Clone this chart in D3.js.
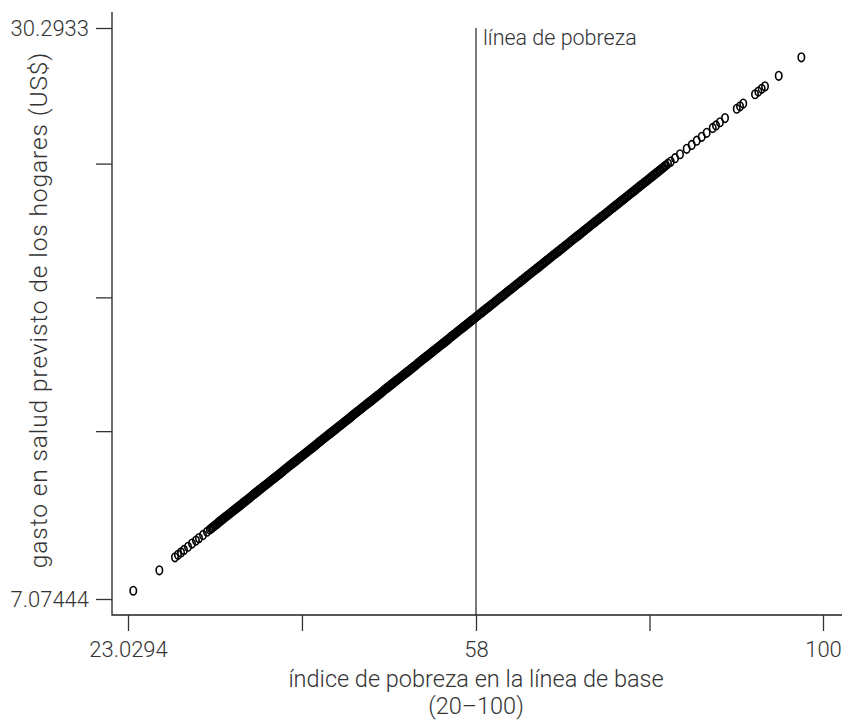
<!DOCTYPE html>
<html>
<head>
<meta charset="utf-8">
<script src="https://cdn.jsdelivr.net/npm/d3@7"></script>
<style>
  body { margin: 0; background: #fff; }
  svg text { font-family: Roboto, "Liberation Sans", sans-serif; font-weight: 300; fill: #333; }
</style>
</head>
<body>
<svg width="842" height="720"></svg>
<script>
// indice de pobreza (x) y gasto previsto (y)
const lowIndex = [23.56, 26.18, 27.75, 28.05, 28.36, 28.66, 29.06, 29.46, 29.86, 30.16, 30.57, 30.97];
const lowSpend = [7.41, 8.24, 8.77, 8.87, 8.97, 9.07, 9.20, 9.33, 9.45, 9.55, 9.68, 9.81];

const bandIndexA = [
  31.25, 31.38, 31.5, 31.63, 31.75, 31.88,
  32, 32.13, 32.25, 32.38, 32.5, 32.63, 32.75, 32.88,
  33, 33.13, 33.25, 33.38, 33.5, 33.63, 33.75, 33.88,
  34, 34.13, 34.25, 34.38, 34.5, 34.63, 34.75, 34.88,
  35, 35.13, 35.25, 35.38, 35.5, 35.63, 35.75, 35.88,
  36, 36.13, 36.25, 36.38, 36.5, 36.63, 36.75, 36.88,
  37, 37.13, 37.25, 37.38, 37.5, 37.63, 37.75, 37.88,
  38, 38.13, 38.25, 38.38, 38.5, 38.63, 38.75, 38.88,
  39, 39.13, 39.25, 39.38, 39.5, 39.63, 39.75, 39.88,
  40, 40.13, 40.25, 40.38, 40.5, 40.63, 40.75, 40.88,
  41, 41.13, 41.25, 41.38, 41.5, 41.63, 41.75, 41.88,
  42, 42.13, 42.25, 42.38, 42.5, 42.63, 42.75, 42.88,
  43, 43.13, 43.25, 43.38, 43.5, 43.63, 43.75, 43.88,
  44, 44.13, 44.25, 44.38, 44.5, 44.63, 44.75, 44.88,
  45, 45.13, 45.25, 45.38, 45.5, 45.63, 45.75, 45.88,
  46, 46.13, 46.25, 46.38, 46.5, 46.63, 46.75, 46.88,
  47, 47.13, 47.25, 47.38, 47.5, 47.63, 47.75, 47.88,
  48, 48.13, 48.25, 48.38, 48.5, 48.63, 48.75, 48.88,
  49, 49.13, 49.25, 49.38, 49.5, 49.63, 49.75, 49.88,
  50, 50.13, 50.25, 50.38, 50.5, 50.63, 50.75, 50.88,
  51, 51.13, 51.25, 51.38, 51.5, 51.63, 51.75, 51.88,
  52, 52.13, 52.25, 52.38, 52.5, 52.63, 52.75, 52.88,
  53, 53.13, 53.25, 53.38, 53.5, 53.63, 53.75, 53.88,
  54, 54.13, 54.25, 54.38, 54.5, 54.63, 54.75, 54.88,
  55, 55.13, 55.25, 55.38, 55.5, 55.63, 55.75, 55.88,
  56, 56.13, 56.25, 56.38, 56.5, 56.63, 56.75, 56.88,
  57, 57.13, 57.25, 57.38, 57.5, 57.63, 57.75, 57.88
];
const bandSpendA = [
  9.90, 9.94, 9.98, 10.02, 10.06, 10.10,
  10.14, 10.19, 10.23, 10.27, 10.31, 10.35, 10.39, 10.43,
  10.47, 10.51, 10.55, 10.59, 10.63, 10.67, 10.71, 10.75,
  10.79, 10.83, 10.87, 10.91, 10.95, 10.99, 11.03, 11.07,
  11.11, 11.15, 11.19, 11.23, 11.28, 11.32, 11.36, 11.40,
  11.44, 11.48, 11.52, 11.56, 11.60, 11.64, 11.68, 11.72,
  11.76, 11.80, 11.84, 11.88, 11.92, 11.96, 12.00, 12.04,
  12.08, 12.12, 12.16, 12.20, 12.24, 12.28, 12.33, 12.37,
  12.41, 12.45, 12.49, 12.53, 12.57, 12.61, 12.65, 12.69,
  12.73, 12.77, 12.81, 12.85, 12.89, 12.93, 12.97, 13.01,
  13.05, 13.09, 13.13, 13.17, 13.21, 13.25, 13.29, 13.33,
  13.37, 13.42, 13.46, 13.50, 13.54, 13.58, 13.62, 13.66,
  13.70, 13.74, 13.78, 13.82, 13.86, 13.90, 13.94, 13.98,
  14.02, 14.06, 14.10, 14.14, 14.18, 14.22, 14.26, 14.30,
  14.34, 14.38, 14.42, 14.46, 14.51, 14.55, 14.59, 14.63,
  14.67, 14.71, 14.75, 14.79, 14.83, 14.87, 14.91, 14.95,
  14.99, 15.03, 15.07, 15.11, 15.15, 15.19, 15.23, 15.27,
  15.31, 15.35, 15.39, 15.43, 15.47, 15.51, 15.56, 15.60,
  15.64, 15.68, 15.72, 15.76, 15.80, 15.84, 15.88, 15.92,
  15.96, 16.00, 16.04, 16.08, 16.12, 16.16, 16.20, 16.24,
  16.28, 16.32, 16.36, 16.40, 16.44, 16.48, 16.52, 16.56,
  16.60, 16.65, 16.69, 16.73, 16.77, 16.81, 16.85, 16.89,
  16.93, 16.97, 17.01, 17.05, 17.09, 17.13, 17.17, 17.21,
  17.25, 17.29, 17.33, 17.37, 17.41, 17.45, 17.49, 17.53,
  17.57, 17.61, 17.65, 17.70, 17.74, 17.78, 17.82, 17.86,
  17.90, 17.94, 17.98, 18.02, 18.06, 18.10, 18.14, 18.18,
  18.22, 18.26, 18.30, 18.34, 18.38, 18.42, 18.46, 18.50
];

const bandIndexB = [
  58, 58.17, 58.33, 58.5, 58.67, 58.83,
  59, 59.17, 59.33, 59.5, 59.67, 59.83,
  60, 60.17, 60.33, 60.5, 60.67, 60.83,
  61, 61.17, 61.33, 61.5, 61.67, 61.83,
  62, 62.17, 62.33, 62.5, 62.67, 62.83,
  63, 63.17, 63.33, 63.5, 63.67, 63.83,
  64, 64.17, 64.33, 64.5, 64.67, 64.83,
  65, 65.17, 65.33, 65.5, 65.67, 65.83,
  66, 66.17, 66.33, 66.5, 66.67, 66.83,
  67, 67.17, 67.33, 67.5, 67.67, 67.83,
  68, 68.17, 68.33, 68.5, 68.67, 68.83,
  69, 69.17, 69.33, 69.5, 69.67, 69.83,
  70, 70.17, 70.33, 70.5, 70.67, 70.83,
  71, 71.17, 71.33, 71.5, 71.67, 71.83,
  72, 72.17, 72.33, 72.5, 72.67, 72.83,
  73, 73.17, 73.33, 73.5, 73.67, 73.83,
  74, 74.17, 74.33, 74.5, 74.67, 74.83,
  75, 75.17, 75.33, 75.5, 75.67, 75.83,
  76, 76.17, 76.33, 76.5, 76.67, 76.83,
  77, 77.17, 77.33, 77.5, 77.67, 77.83,
  78, 78.17, 78.33, 78.5, 78.67, 78.83,
  79, 79.17, 79.33, 79.5, 79.67, 79.83,
  80, 80.17, 80.33, 80.5, 80.67, 80.83,
  81
];
const bandSpendB = [
  18.54, 18.59, 18.63, 18.68, 18.72, 18.77,
  18.81, 18.86, 18.90, 18.94, 18.99, 19.03,
  19.08, 19.12, 19.17, 19.21, 19.26, 19.30,
  19.35, 19.39, 19.44, 19.48, 19.53, 19.57,
  19.62, 19.66, 19.70, 19.75, 19.79, 19.84,
  19.88, 19.93, 19.97, 20.02, 20.06, 20.11,
  20.15, 20.20, 20.24, 20.29, 20.33, 20.38,
  20.42, 20.46, 20.51, 20.55, 20.60, 20.64,
  20.69, 20.73, 20.78, 20.82, 20.87, 20.91,
  20.96, 21.00, 21.05, 21.09, 21.13, 21.18,
  21.22, 21.27, 21.31, 21.36, 21.40, 21.45,
  21.49, 21.54, 21.58, 21.63, 21.67, 21.72,
  21.76, 21.81, 21.85, 21.89, 21.94, 21.98,
  22.03, 22.07, 22.12, 22.16, 22.21, 22.25,
  22.30, 22.34, 22.39, 22.43, 22.48, 22.52,
  22.57, 22.61, 22.65, 22.70, 22.74, 22.79,
  22.83, 22.88, 22.92, 22.97, 23.01, 23.06,
  23.10, 23.15, 23.19, 23.24, 23.28, 23.32,
  23.37, 23.41, 23.46, 23.50, 23.55, 23.59,
  23.64, 23.68, 23.73, 23.77, 23.82, 23.86,
  23.91, 23.95, 24.00, 24.04, 24.08, 24.13,
  24.17, 24.22, 24.26, 24.31, 24.35, 24.40,
  24.44, 24.49, 24.53, 24.58, 24.62, 24.67,
  24.71
];

const highIndex = [81.24, 81.57, 82.09, 82.69, 83.5, 84.11, 84.71, 85.32, 85.92, 86.65, 87.05, 87.53, 88.14,
  89.56, 89.96, 90.35, 91.77, 92.17, 92.58, 92.98, 94.64, 97.38];
const highSpend = [24.78, 24.86, 25.00, 25.16, 25.38, 25.54, 25.71, 25.87, 26.03, 26.23, 26.33, 26.46, 26.63,
  27.01, 27.11, 27.22, 27.60, 27.71, 27.82, 27.92, 28.35, 29.10];

const xTickValues = [23.0294, 40.51, 58, 79, 100];
const xTickLabels = ["23.0294", "", "58", "", "100"];
const yTickValues = [7.07444, 13.90, 19.34, 24.78, 30.2933];
const yTickLabels = ["7.07444", "", "", "", "30.2933"];
const povertyLine = 58;

const povertyIndex = lowIndex.concat(bandIndexA, bandIndexB, highIndex);
const healthSpend = lowSpend.concat(bandSpendA, bandSpendB, highSpend);
const data = povertyIndex.map((v, i) => ({ x: v, y: healthSpend[i] }));

const svg = d3.select("svg");

// eje x con marcas equidistantes: 23.0294 | 58 | 100
const xScale = d3.scaleLinear()
  .domain([23.0294, 58, 100])
  .range([128, 476, 823]);

const yScale = d3.scaleLinear()
  .domain([7.07444, 30.2933])
  .range([599, 28]);

// lineas de los ejes
svg.append("path")
  .attr("d", "M112,12V615H842")
  .attr("fill", "none")
  .attr("stroke", "#222")
  .attr("stroke-width", 1.3);

const gx = svg.append("g")
  .attr("transform", "translate(0,615)")
  .call(d3.axisBottom(xScale)
    .tickValues(xTickValues)
    .tickFormat((d, i) => xTickLabels[i])
    .tickSize(16)
    .tickPadding(10));

const gy = svg.append("g")
  .attr("transform", "translate(112,0)")
  .call(d3.axisLeft(yScale)
    .tickValues(yTickValues)
    .tickFormat((d, i) => yTickLabels[i])
    .tickSize(16)
    .tickPadding(7));

[gx, gy].forEach(g => {
  g.select(".domain").remove();
  g.selectAll(".tick line").attr("stroke", "#333").attr("stroke-width", 1.3);
  g.selectAll(".tick text").attr("font-size", 22).attr("fill", "#333")
    .style("font-family", "Roboto, 'Liberation Sans', sans-serif");
});

// linea de pobreza
svg.append("line")
  .attr("x1", xScale(povertyLine)).attr("x2", xScale(povertyLine))
  .attr("y1", yScale(30.2933)).attr("y2", 615)
  .attr("stroke", "#222")
  .attr("stroke-width", 1.2);

svg.append("text")
  .attr("x", xScale(povertyLine) + 7)
  .attr("y", 45)
  .attr("font-size", 21.5)
  .text("línea de pobreza");

// puntos
svg.selectAll(".dot")
  .data(data)
  .enter()
  .append("ellipse")
  .attr("class", "dot")
  .attr("cx", d => xScale(d.x))
  .attr("cy", d => yScale(d.y))
  .attr("rx", 3.2)
  .attr("ry", 4.3)
  .attr("fill", "none")
  .attr("stroke", "#000")
  .attr("stroke-width", 1.6);

// titulos
svg.append("text")
  .attr("x", 476)
  .attr("y", 687)
  .attr("text-anchor", "middle")
  .attr("font-size", 23.5)
  .text("índice de pobreza en la línea de base");

svg.append("text")
  .attr("x", 476)
  .attr("y", 714)
  .attr("text-anchor", "middle")
  .attr("font-size", 23.5)
  .text("(20–100)");

svg.append("text")
  .attr("transform", "translate(47,310) rotate(-90)")
  .attr("text-anchor", "middle")
  .attr("font-size", 24.5)
  .attr("letter-spacing", 0.9)
  .text("gasto en salud previsto de los hogares (US$)");
</script>
</body>
</html>
